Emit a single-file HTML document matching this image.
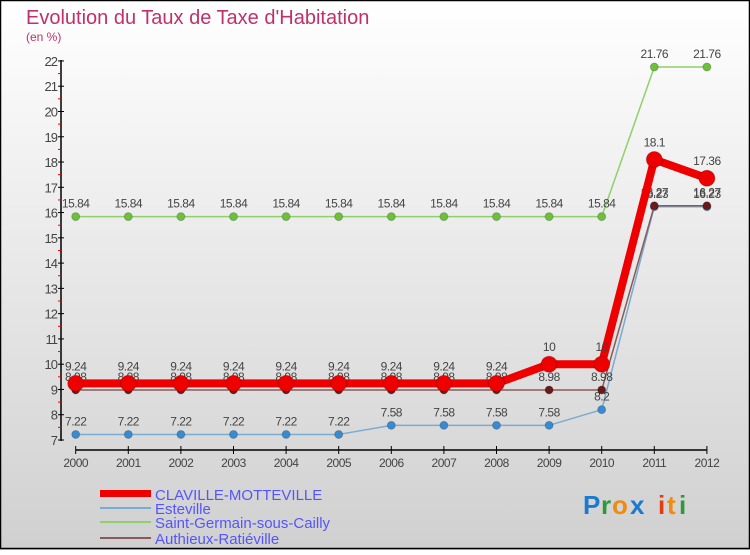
<!DOCTYPE html>
<html><head><meta charset="utf-8"><style>
body{margin:0;width:750px;height:550px;overflow:hidden;font-family:"Liberation Sans",sans-serif}
svg text{font-family:"Liberation Sans",sans-serif}
</style></head><body>
<svg id="c" width="750" height="550" xmlns="http://www.w3.org/2000/svg">
<defs><linearGradient id="bg" x1="0" y1="0" x2="0" y2="1"><stop offset="0" stop-color="#ffffff"/><stop offset="1" stop-color="#d0d0d0"/></linearGradient></defs>
<rect x="0" y="0" width="750" height="550" fill="url(#bg)"/>
<rect x="0.5" y="0.5" width="749" height="548" fill="none" stroke="#000" stroke-width="1.5"/>
<text x="26" y="24" font-size="20" fill="#c0306a">Evolution du Taux de Taxe d'Habitation</text>
<text x="26" y="41" font-size="12" fill="#c0306a">(en %)</text>
<g id="axes"></g><g id="series"></g>
<g>
<rect x="100" y="490" width="51" height="7" fill="#e00"/>
<text x="155" y="500" font-size="15" fill="#5555ff">CLAVILLE-MOTTEVILLE</text>
<rect x="100" y="507" width="51" height="2" fill="#7aabd0"/>
<text x="155" y="514" font-size="15" fill="#5555ff">Esteville</text>
<rect x="100" y="521" width="51" height="2" fill="#8fd06a"/>
<text x="155" y="528" font-size="15" fill="#5555ff">Saint-Germain-sous-Cailly</text>
<rect x="100" y="537" width="51" height="2" fill="#8a5a5a"/>
<text x="155" y="544" font-size="15" fill="#5555ff">Authieux-Ratiéville</text>
</g>
<g font-size="26" font-weight="bold">
<text x="583" y="514" fill="#1a7ad0">P</text><text x="601" y="514" fill="#2a9a3a">r</text><text x="612" y="514" fill="#f08a10">o</text><text x="630" y="514" fill="#1a7ad0">x</text><text x="658" y="514" fill="#e83a10">i</text><text x="667" y="514" fill="#f08a10">t</text><text x="679" y="514" fill="#2a9a3a">i</text>
</g>
</svg>
<script>
const years=[2000,2001,2002,2003,2004,2005,2006,2007,2008,2009,2010,2011,2012];
const yTicks=[7,8,9,10,11,12,13,14,15,16,17,18,19,20,21,22];
const claville=[9.24,9.24,9.24,9.24,9.24,9.24,9.24,9.24,9.24,10,10,18.1,17.36];
const esteville=[7.22,7.22,7.22,7.22,7.22,7.22,7.58,7.58,7.58,7.58,8.2,16.23,16.23];
const saintGermain=[15.84,15.84,15.84,15.84,15.84,15.84,15.84,15.84,15.84,15.84,15.84,21.76,21.76];
const authieux=[8.98,8.98,8.98,8.98,8.98,8.98,8.98,8.98,8.98,8.98,8.98,16.27,16.27];
const NS="http://www.w3.org/2000/svg";
const X=i=>75.7+i*52.6, Y=v=>440-(v-7)*25.27;
function mk(p,t,a){const e=document.createElementNS(NS,t);for(const k in a)e.setAttribute(k,a[k]);p.appendChild(e);return e;}
const ax=document.getElementById('axes');
let l=mk(ax,'line',{x1:61,y1:60,x2:61,y2:441,stroke:'#000','stroke-width':1.5});


l=mk(ax,'line',{x1:X(0),y1:450,x2:X(12),y2:450,stroke:'#000','stroke-width':1.5});


yTicks.forEach(v=>{
 mk(ax,'line',{x1:58,y1:Y(v),x2:64,y2:Y(v),stroke:'#000'});
 if(v<22) mk(ax,'line',{x1:58,y1:Y(v+0.5),x2:61,y2:Y(v+0.5),stroke:'#e00'});
 const t=mk(ax,'text',{x:57,y:Y(v)+5,'text-anchor':'end','font-size':13,fill:'#444','letter-spacing':'-1'});
 t.textContent=v;
 
 
});
years.forEach((y,i)=>{
 mk(ax,'line',{x1:X(i),y1:446,x2:X(i),y2:454,stroke:'#000'});
 const t=mk(ax,'text',{x:X(i),y:467,'text-anchor':'middle','font-size':12,fill:'#444','letter-spacing':'-0.5'});
 t.textContent=y;
 
 
});
const sg=document.getElementById('series');
function draw(data,name,color,w,r,fill,lab){
 const g=mk(sg,'g',{});
 
 
 const pl=mk(g,'polyline',{points:data.map((v,i)=>X(i)+','+Y(v)).join(' '),fill:'none',stroke:color,'stroke-width':w,'stroke-linejoin':'round'});
 
 
 data.forEach((v,i)=>{
  const c=mk(g,'circle',{cx:X(i),cy:Y(v),r:r,fill:fill,stroke:'rgba(0,0,0,0.2)'});
  
  
  if(lab){const t=mk(g,'text',{x:X(i),y:Y(v)-r-5,'text-anchor':'middle','font-size':12,fill:'#444','letter-spacing':'-0.5'});
  t.textContent=String(v);
  
  }
 });
}
draw(saintGermain,'saint-germain','#8fd06a',1.5,4,'#6cc03a',true);
draw(esteville,'esteville','#7aabd0',1.5,4,'#3a8ad0',true);
draw(authieux,'authieux','#8a5a5a',1.5,4,'#6a1a1a',true);
draw(claville,'claville','#ee0000',8,8,'#ee0000',true);
</script>
</body></html>
